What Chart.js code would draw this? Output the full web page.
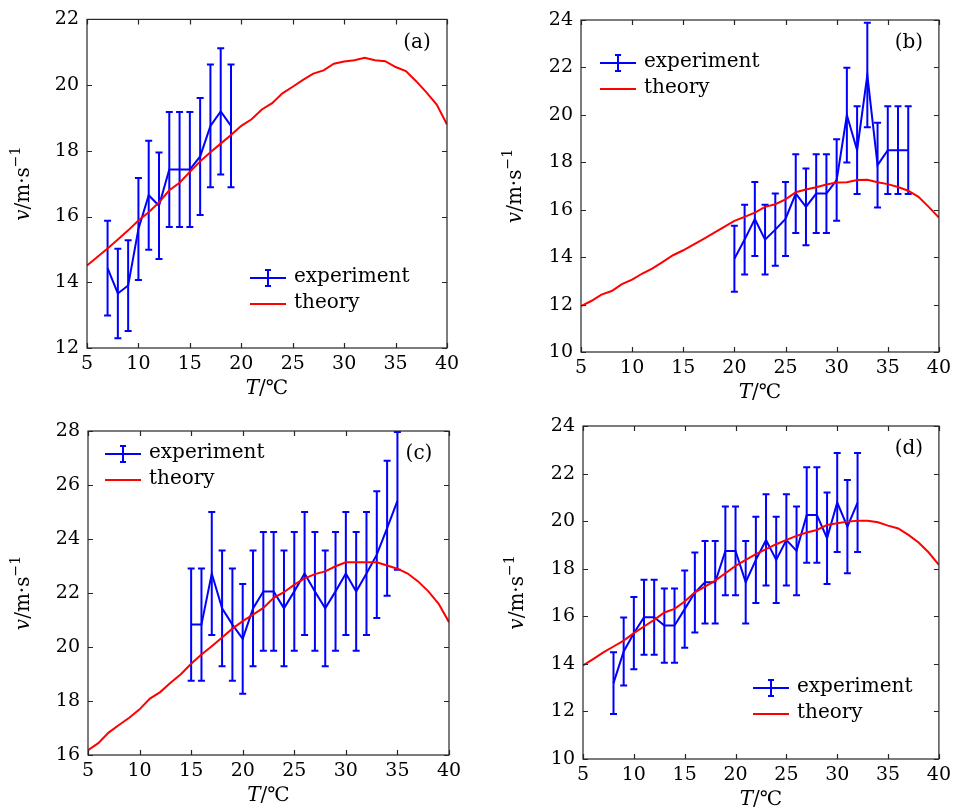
<!DOCTYPE html>
<html>
<head>
<meta charset="utf-8">
<script src="https://cdn.jsdelivr.net/npm/chart.js@4.4.1/dist/chart.umd.min.js"></script>
<style>
  html, body { margin: 0; padding: 0; background: #fff; }
  #wrap { position: relative; width: 956px; height: 812px; }
  canvas { position: absolute; }
</style>
</head>
<body>
<div id="wrap">
  <canvas id="cA" style="left:0;top:0" width="478" height="405"></canvas>
  <canvas id="cB" style="left:478px;top:0" width="478" height="405"></canvas>
  <canvas id="cC" style="left:0;top:405px" width="478" height="407"></canvas>
  <canvas id="cD" style="left:478px;top:405px" width="478" height="407"></canvas>
</div>
<script>
// temperatures for the theory curves (all panels)
const theoryT = [5, 6, 7, 8, 9, 10, 11, 12, 13, 14, 15, 16, 17, 18, 19, 20, 21, 22, 23, 24,
  25, 26, 27, 28, 29, 30, 31, 32, 33, 34, 35, 36, 37, 38, 39, 40];

// panel (a)
const expTA = [7, 8, 9, 10, 11, 12, 13, 14, 15, 16, 17, 18, 19];
const expVA = [14.43, 13.66, 13.9, 15.62, 16.65, 16.33, 17.43, 17.43, 17.43, 17.83, 18.76, 19.2, 18.76];
const errA = [1.44, 1.36, 1.38, 1.55, 1.66, 1.62, 1.75, 1.75, 1.75, 1.78, 1.87, 1.92, 1.87];
const theoryA = [14.51, 14.77, 15.03, 15.3, 15.58, 15.88, 16.13, 16.43, 16.8, 17.03, 17.36, 17.68,
  17.96, 18.22, 18.48, 18.76, 18.96, 19.26, 19.45, 19.75, 19.95, 20.16, 20.35, 20.45, 20.65,
  20.72, 20.76, 20.83, 20.76, 20.73, 20.55, 20.43, 20.12, 19.78, 19.41, 18.8];

// panel (b)
const expTB = [20, 21, 22, 23, 24, 25, 26, 27, 28, 29, 30, 31, 32, 33, 34, 35, 36, 37];
const expVB = [13.93, 14.74, 15.61, 14.74, 15.16, 15.61, 16.68, 16.12, 16.68, 16.68, 17.25,
  19.99, 18.51, 21.68, 17.88, 18.51, 18.51, 18.51];
const errB = [1.39, 1.47, 1.56, 1.47, 1.52, 1.56, 1.66, 1.62, 1.66, 1.66, 1.72, 2.0, 1.85, 2.2,
  1.79, 1.85, 1.85, 1.85];
const theoryB = [11.94, 12.15, 12.42, 12.57, 12.86, 13.05, 13.31, 13.53, 13.8, 14.08, 14.29, 14.53,
  14.77, 15.02, 15.28, 15.53, 15.7, 15.88, 16.12, 16.23, 16.44, 16.74, 16.85, 16.95, 17.06,
  17.15, 17.16, 17.25, 17.26, 17.16, 17.08, 16.96, 16.8, 16.54, 16.12, 15.67];

// panel (c)
const expTC = [15, 16, 17, 18, 19, 20, 21, 22, 23, 24, 25, 26, 27, 28, 29, 30, 31, 32, 33, 34, 35];
const expVC = [20.83, 20.83, 22.72, 21.43, 20.83, 20.3, 21.43, 22.06, 22.06, 21.43, 22.06, 22.72,
  22.06, 21.43, 22.06, 22.72, 22.06, 22.72, 23.42, 24.4, 25.41];
const errC = [2.08, 2.08, 2.28, 2.14, 2.08, 2.03, 2.14, 2.2, 2.2, 2.14, 2.2, 2.28, 2.2, 2.14, 2.2,
  2.28, 2.2, 2.28, 2.35, 2.5, 2.55];
const theoryC = [16.18, 16.44, 16.83, 17.11, 17.38, 17.69, 18.09, 18.33, 18.68, 18.99, 19.38, 19.72,
  20.03, 20.35, 20.68, 20.96, 21.2, 21.45, 21.82, 22.03, 22.31, 22.54, 22.7, 22.8, 22.99,
  23.14, 23.14, 23.14, 23.14, 23.02, 22.9, 22.72, 22.43, 22.06, 21.6, 20.92];

// panel (d)
const expTD = [8, 9, 10, 11, 12, 13, 14, 15, 16, 17, 18, 19, 20, 21, 22, 23, 24, 25, 26, 27, 28,
  29, 30, 31, 32];
const expVD = [13.19, 14.52, 15.29, 15.96, 15.96, 15.61, 15.61, 16.3, 17.0, 17.43, 17.43, 18.75,
  18.75, 17.43, 18.37, 19.21, 18.37, 19.21, 18.75, 20.26, 20.26, 19.28, 20.78, 19.77, 20.78];
const errD = [1.3, 1.43, 1.52, 1.58, 1.58, 1.56, 1.56, 1.62, 1.68, 1.73, 1.73, 1.87, 1.87, 1.73,
  1.81, 1.92, 1.81, 1.92, 1.87, 2.01, 2.01, 1.92, 2.08, 1.96, 2.08];
const theoryD = [13.93, 14.2, 14.48, 14.73, 14.98, 15.29, 15.57, 15.85, 16.16, 16.31, 16.62, 17.01,
  17.25, 17.5, 17.81, 18.12, 18.37, 18.61, 18.82, 19.03, 19.21, 19.38, 19.52, 19.63, 19.84,
  19.91, 19.98, 20.02, 20.02, 19.95, 19.81, 19.69, 19.42, 19.1, 18.68, 18.16];

const FONT = "'DejaVu Serif', 'Liberation Serif', serif";
const BLUE = "#0000ff";
const RED = "#ff0000";

function pts(xs, ys) {
    return xs.map((x, i) => ({ x: x, y: ys[i] }));
}

const figPlugin = {
    id: "fig",
    beforeDatasetsDraw(chart) {
        // error bars for the experiment series
        const ctx = chart.ctx;
        const xs = chart.scales.x, ys = chart.scales.y;
        const p = chart.options.plugins.fig;
        ctx.save();
        ctx.strokeStyle = BLUE;
        ctx.lineWidth = 2;
        p.expT.forEach((t, i) => {
            const x = xs.getPixelForValue(t);
            const y1 = ys.getPixelForValue(p.expV[i] + p.err[i]);
            const y2 = ys.getPixelForValue(p.expV[i] - p.err[i]);
            ctx.beginPath();
            ctx.moveTo(x, y1); ctx.lineTo(x, y2);
            ctx.moveTo(x - 3.5, y1); ctx.lineTo(x + 3.5, y1);
            ctx.moveTo(x - 3.5, y2); ctx.lineTo(x + 3.5, y2);
            ctx.stroke();
        });
        ctx.restore();
    },
    afterDraw(chart) {
        const ctx = chart.ctx;
        const a = chart.chartArea;
        const xs = chart.scales.x, ys = chart.scales.y;
        const p = chart.options.plugins.fig;
        ctx.save();
        // frame and inward ticks
        ctx.strokeStyle = "#262626";
        ctx.lineWidth = 1.2;
        ctx.strokeRect(a.left, a.top, a.right - a.left, a.bottom - a.top);
        ctx.beginPath();
        xs.ticks.forEach(tk => {
            const x = Math.round(xs.getPixelForValue(tk.value)) + 0.5;
            ctx.moveTo(x, a.bottom); ctx.lineTo(x, a.bottom - 5);
            ctx.moveTo(x, a.top); ctx.lineTo(x, a.top + 5);
        });
        ys.ticks.forEach(tk => {
            const y = Math.round(ys.getPixelForValue(tk.value)) + 0.5;
            ctx.moveTo(a.left, y); ctx.lineTo(a.left + 5, y);
            ctx.moveTo(a.right, y); ctx.lineTo(a.right - 5, y);
        });
        ctx.stroke();

        ctx.fillStyle = "#000";
        ctx.textBaseline = "middle";
        ctx.font = "20px " + FONT;

        // panel label
        ctx.textAlign = "center";
        ctx.fillText(p.label, a.right - 30, a.top + 23);

        // legend
        const lx = p.legend[0], ly = p.legend[1];
        ctx.textAlign = "left";
        ctx.strokeStyle = BLUE;
        ctx.lineWidth = 2;
        ctx.beginPath();
        ctx.moveTo(lx, ly); ctx.lineTo(lx + 36, ly);
        ctx.moveTo(lx + 18, ly - 8); ctx.lineTo(lx + 18, ly + 8);
        ctx.moveTo(lx + 15, ly - 8); ctx.lineTo(lx + 21, ly - 8);
        ctx.moveTo(lx + 15, ly + 8); ctx.lineTo(lx + 21, ly + 8);
        ctx.stroke();
        ctx.strokeStyle = RED;
        ctx.beginPath();
        ctx.moveTo(lx, ly + 26); ctx.lineTo(lx + 36, ly + 26);
        ctx.stroke();
        ctx.fillText("experiment", lx + 44, ly - 1);
        ctx.fillText("theory", lx + 44, ly + 25);

        // x title: T/°C
        const cx = (a.left + a.right) / 2;
        const ty = a.bottom + 41;
        ctx.font = "italic 20px " + FONT;
        const wT = ctx.measureText("T").width;
        ctx.font = "20px " + FONT;
        const wR = ctx.measureText("/\u2103").width;
        let x0 = cx - (wT + wR) / 2;
        ctx.font = "italic 20px " + FONT;
        ctx.fillText("T", x0, ty);
        ctx.font = "20px " + FONT;
        ctx.fillText("/\u2103", x0 + wT, ty);

        // y title: v/m·s^-1
        ctx.translate(p.yTitleX, (a.top + a.bottom) / 2);
        ctx.rotate(-Math.PI / 2);
        ctx.font = "italic 20px " + FONT;
        const wv = ctx.measureText("v").width;
        ctx.font = "20px " + FONT;
        const wm = ctx.measureText("/m\u00b7s").width;
        ctx.font = "14px " + FONT;
        const ws = ctx.measureText("\u22121").width;
        x0 = -(wv + wm + ws) / 2;
        ctx.font = "italic 20px " + FONT;
        ctx.fillText("v", x0, 0);
        ctx.font = "20px " + FONT;
        ctx.fillText("/m\u00b7s", x0 + wv, 0);
        ctx.font = "14px " + FONT;
        ctx.fillText("\u22121", x0 + wv + wm, -8);
        ctx.restore();
    }
};

function makeChart(id, o) {
    const canvas = document.getElementById(id);
    const ctx = canvas.getContext("2d");
    const W = canvas.width, H = canvas.height;
    return new Chart(ctx, {
        type: "line",
        data: {
            datasets: [
                {
                    label: "theory",
                    data: pts(theoryT, o.theory),
                    borderColor: RED,
                    borderWidth: 2,
                    pointRadius: 0,
                    tension: 0,
                },
                {
                    label: "experiment",
                    data: pts(o.expT, o.expV),
                    borderColor: BLUE,
                    borderWidth: 2,
                    pointRadius: 0,
                    tension: 0,
                },
            ],
        },
        options: {
            responsive: false,
            animation: false,
            layout: {
                padding: { left: 0, top: o.area[1], right: W - o.area[2], bottom: 0 },
            },
            plugins: {
                legend: { display: false },
                tooltip: { enabled: false },
                fig: {
                    label: o.label,
                    legend: o.legend,
                    yTitleX: o.yTitleX,
                    expT: o.expT,
                    expV: o.expV,
                    err: o.err,
                },
            },
            scales: {
                x: {
                    type: "linear",
                    min: 5,
                    max: 40,
                    grid: { display: false, drawTicks: false },
                    border: { display: false },
                    ticks: { stepSize: 5, color: "#000", padding: 5, font: { family: FONT, size: 19 } },
                    afterFit(scale) { scale.height = H - o.area[3]; },
                },
                y: {
                    type: "linear",
                    min: o.yMin,
                    max: o.yMax,
                    grid: { display: false, drawTicks: false },
                    border: { display: false },
                    ticks: { stepSize: 2, color: "#000", padding: 8, font: { family: FONT, size: 19 } },
                    afterFit(scale) { scale.width = o.area[0]; },
                },
            },
        },
        plugins: [figPlugin],
    });
}

makeChart("cA", {
    area: [87, 16, 447, 348], yMin: 12, yMax: 22, label: "(a)", legend: [250, 278], yTitleX: 24,
    expT: expTA, expV: expVA, err: errA, theory: theoryA,
});
makeChart("cB", {
    area: [103, 20, 463, 352], yMin: 10, yMax: 24, label: "(b)", legend: [122, 63], yTitleX: 38,
    expT: expTB, expV: expVB, err: errB, theory: theoryB,
});
makeChart("cC", {
    area: [88, 26, 449, 350], yMin: 16, yMax: 28, label: "(c)", legend: [105, 49], yTitleX: 24,
    expT: expTC, expV: expVC, err: errC, theory: theoryC,
});
makeChart("cD", {
    area: [105, 21, 466, 354], yMin: 10, yMax: 24, label: "(d)", legend: [275, 283], yTitleX: 40,
    expT: expTD, expV: expVD, err: errD, theory: theoryD,
});
</script>
</body>
</html>
